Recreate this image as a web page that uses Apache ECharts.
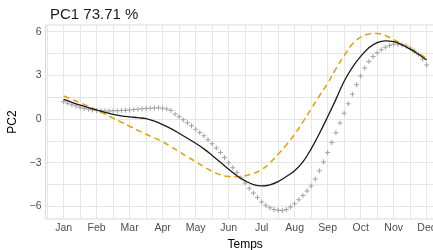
<!DOCTYPE html>
<html>
<head>
<meta charset="utf-8">
<script src="https://cdn.jsdelivr.net/npm/echarts@6/dist/echarts.min.js"></script>
<style>html,body{margin:0;padding:0;background:#fff;}#c{width:433px;height:250px;}</style>
</head>
<body>
<div id="c"></div>
<script>
// ---- data ----
const monthLabels = ['Jan','Feb','Mar','Apr','May','Jun','Jul','Aug','Sep','Oct','Nov','Dec'];
const monthTicks = [1,2,3,4,5,6,7,8,9,10,11,12];
const yTicks = [-6,-3,0,3,6];
const yGrid = [-6,-4.5,-3,-1.5,0,1.5,3,4.5,6];
const xGrid = [0.5,1,1.5,2,2.5,3,3.5,4,4.5,5,5.5,6,6.5,7,7.5,8,8.5,9,9.5,10,10.5,11,11.5,12,12.5];

// smooth curves sampled every quarter month from Jan (1) to Dec (12)
const curveStart = 1, curveStep = 0.25;
const blackValues = [1.35,1.15,0.96,0.78,0.62,0.46,0.32,0.22,0.15,0.09,0.02,-0.15,-0.38,-0.66,-0.98,-1.32,-1.67,-2.05,-2.5,-2.97,-3.45,-3.9,-4.25,-4.5,-4.6,-4.52,-4.3,-3.95,-3.55,-2.95,-2.05,-1.0,0.15,1.35,2.6,3.55,4.3,4.9,5.25,5.37,5.31,5.1,4.8,4.45,4.05];
const orangeValues = [1.58,1.35,1.12,0.88,0.62,0.34,0.06,-0.22,-0.5,-0.78,-1.05,-1.3,-1.56,-1.9,-2.25,-2.6,-2.93,-3.28,-3.6,-3.83,-3.95,-3.97,-3.9,-3.74,-3.48,-3.02,-2.42,-1.78,-1.05,-0.2,0.7,1.6,2.45,3.45,4.35,5.15,5.62,5.84,5.88,5.74,5.45,5.15,4.85,4.52,4.17];

// crosses sampled every 1/8 month
const crossStart = 1, crossStep = 0.125;
const crossValues = [1.19,1.08,0.98,0.89,0.80,0.73,0.67,0.62,
 0.58,0.56,0.55,0.55,0.56,0.57,0.59,0.60,
 0.62,0.65,0.67,0.70,0.72,0.74,0.76,0.77,
 0.74,0.68,0.58,0.34,0.15,-0.05,-0.25,-0.47,
 -0.70,-0.92,-1.15,-1.42,-1.70,-2.00,-2.30,-2.64,
 -3.00,-3.35,-3.70,-4.05,-4.40,-4.75,-5.08,-5.40,
 -5.70,-5.93,-6.10,-6.21,-6.27,-6.28,-6.22,-6.05,
 -5.82,-5.55,-5.25,-4.95,-4.60,-4.12,-3.55,-2.95,
 -2.30,-1.62,-0.95,-0.28,0.40,1.05,1.70,2.35,
 2.95,3.50,3.95,4.30,4.55,4.76,4.93,5.05,
 5.13,5.14,5.10,5.01,4.88,4.68,4.45,4.12,
 3.71];

const pairs = (start, step, vals) => vals.map((v, i) => [start + i * step, v]);

const chart = echarts.init(document.getElementById('c'), null, {renderer: 'canvas'});
const FONT = 'Liberation Sans, Arial, sans-serif';
chart.setOption({
  animation: false,
  backgroundColor: '#ffffff',
  title: {
    text: 'PC1 73.71 %', left: 45, top: 2,
    textStyle: {fontFamily: FONT, fontSize: 15, fontWeight: 'normal', color: '#1a1a1a'}
  },
  grid: {left: 45.5, top: 25, width: 399.3, height: 194, show: true, borderColor: '#d9d9d9', borderWidth: 1,
         outerBoundsMode: 'none', containLabel: false},
  xAxis: {
    type: 'value', min: 0.45, max: 12.55,
    name: 'Temps', nameLocation: 'middle', nameGap: 13,
    nameTextStyle: {fontFamily: FONT, fontSize: 12, color: '#000', verticalAlign: 'top'},
    axisLine: {show: false},
    axisTick: {show: false, customValues: xGrid},
    axisLabel: {customValues: monthTicks, margin: 4, fontFamily: FONT, fontSize: 10.5, color: '#4d4d4d',
      hideOverlap: false, formatter: v => monthLabels[Math.round(v) - 1] || ''},
    splitLine: {show: true, lineStyle: {color: '#e6e6e6', width: 1}}
  },
  yAxis: {
    type: 'value', min: -6.87, max: 6.46,
    name: 'PC2', nameLocation: 'middle', nameGap: 16,
    nameTextStyle: {fontFamily: FONT, fontSize: 12, color: '#000'},
    axisLine: {show: false},
    axisTick: {show: false, customValues: yGrid},
    axisLabel: {customValues: yTicks, margin: 4, fontFamily: FONT, fontSize: 10.5, color: '#4d4d4d',
      formatter: v => String(v).replace('-', '\u2212')},
    splitLine: {show: true, lineStyle: {color: '#e6e6e6', width: 1}}
  },
  series: [
    {
      type: 'scatter', data: pairs(crossStart, crossStep, crossValues),
      symbol: 'path://M2,0H3V2H5V3H3V5H2V3H0V2H2Z', symbolSize: 5,
      itemStyle: {color: '#8c8c8c'}, z: 1
    },
    {
      type: 'line', data: pairs(curveStart, curveStep, orangeValues), smooth: 0.4,
      showSymbol: false, lineStyle: {color: '#E69F00', width: 1.5, type: [6, 4]}, z: 2
    },
    {
      type: 'line', data: pairs(curveStart, curveStep, blackValues), smooth: 0.4,
      showSymbol: false, lineStyle: {color: '#1a1a1a', width: 1.3}, z: 3
    }
  ]
});
</script>
</body>
</html>
